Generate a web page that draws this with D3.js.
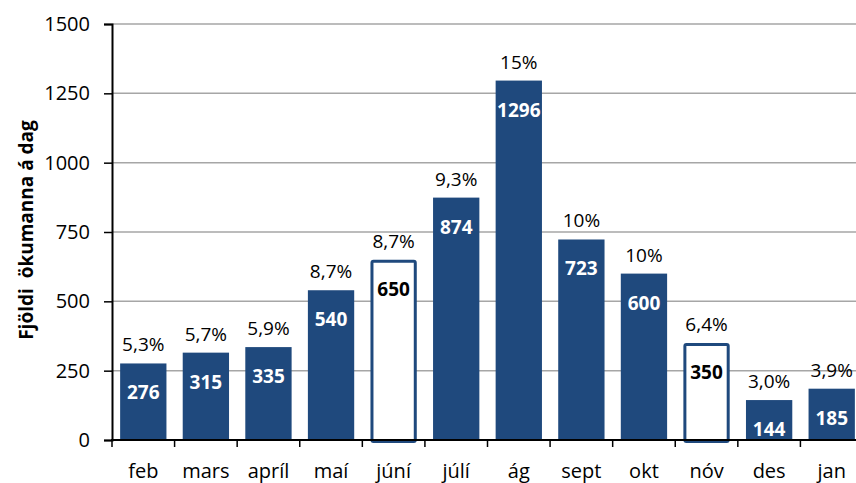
<!DOCTYPE html>
<html><head><meta charset="utf-8">
<script src="https://cdn.jsdelivr.net/npm/d3@7"></script>
<style>body{margin:0;background:#fff}svg{display:block}text{font-family:"Open Sans",sans-serif}</style>
</head><body><svg id="c" width="856" height="483"></svg>
<script>
const months = ["feb","mars","apríl","maí","júní","júlí","ág","sept","okt","nóv","des","jan"];
const values = [276,315,335,540,650,874,1296,723,600,350,144,185];
const percents = ["5,3%","5,7%","5,9%","8,7%","8,7%","9,3%","15%","10%","10%","6,4%","3,0%","3,9%"];
const outlined = ["júní","nóv"];
const yTicks = [0,250,500,750,1000,1250,1500];
const yTitle = "Fjöldi  ökumanna á dag";

const svg = d3.select("#c");
const blue = "#1f497d";
const x = d3.scaleBand().domain(months).range([112, 863]).paddingInner(0.26).paddingOuter(0.13);
const y = d3.scaleLinear().domain([0,1500]).range([440, 24]);

// gridlines
svg.append("g").selectAll("line").data(yTicks.filter(d=>d>0)).join("line")
  .attr("x1",112).attr("x2",856).attr("y1",d=>y(d)).attr("y2",d=>y(d))
  .attr("stroke","#a6a6a6").attr("stroke-width",1.5);

// bars
const data = months.map((m,i)=>({m, v:values[i], p:percents[i], o:outlined.includes(m)}));
svg.append("g").selectAll("rect").data(data).join("rect")
  .attr("x",d=>d.o? x(d.m)+1.5 : x(d.m))
  .attr("width",d=>d.o? x.bandwidth()-3 : x.bandwidth())
  .attr("y",d=>d.o? y(d.v)+1.5 : y(d.v))
  .attr("height",d=>y(0)-y(d.v))
  .attr("fill",d=>d.o?"#fff":blue)
  .attr("stroke",d=>d.o?blue:"none").attr("stroke-width",3).attr("rx",d=>d.o?1.5:0);

// y axis
const ya = d3.axisLeft(y).tickValues(yTicks).tickSize(8).tickPadding(14).tickFormat(d3.format("d"));
const gy = svg.append("g").attr("transform","translate(112,0)").call(ya);
gy.select(".domain").attr("stroke","#000").attr("stroke-width",2);
gy.selectAll(".tick line").attr("stroke","#000").attr("stroke-width",1.5);
gy.selectAll(".tick text").attr("font-size",20).attr("fill","#000").attr("font-family","Open Sans");

// x axis
const gx = svg.append("g").attr("transform","translate(0,440)");
gx.append("line").attr("x1",111).attr("x2",856).attr("y1",0).attr("y2",0).attr("stroke","#000").attr("stroke-width",2);
gx.selectAll("line.t").data(months).join("line").attr("class","t")
  .attr("x1",d=>x(d)-x.step()*x.paddingInner()/2).attr("x2",d=>x(d)-x.step()*x.paddingInner()/2)
  .attr("y1",0).attr("y2",7).attr("stroke","#000").attr("stroke-width",1.5);
gx.selectAll("text").data(months).join("text")
  .attr("x",d=>x(d)+x.bandwidth()/2).attr("y",38).attr("text-anchor","middle")
  .attr("font-size",20).attr("fill","#000").text(d=>d);

// value labels
svg.append("g").selectAll("text").data(data).join("text")
  .attr("x",d=>x(d.m)+x.bandwidth()/2).attr("y",d=>y(d.v)+36)
  .attr("text-anchor","middle").attr("font-size",19).attr("font-weight","bold")
  .attr("fill",d=>d.o?"#000":"#fff").text(d=>d.v);

// percent labels
svg.append("g").selectAll("text").data(data).join("text")
  .attr("x",d=>x(d.m)+x.bandwidth()/2).attr("y",d=>y(d.v)-12)
  .attr("text-anchor","middle").attr("font-size",19).attr("fill","#000").text(d=>d.p);

// y title
svg.append("text").attr("transform","translate(33,230) rotate(-90)")
  .attr("text-anchor","middle").attr("font-size",19).attr("font-weight","bold")
  .style("white-space","pre").text(yTitle);
</script></body></html>
